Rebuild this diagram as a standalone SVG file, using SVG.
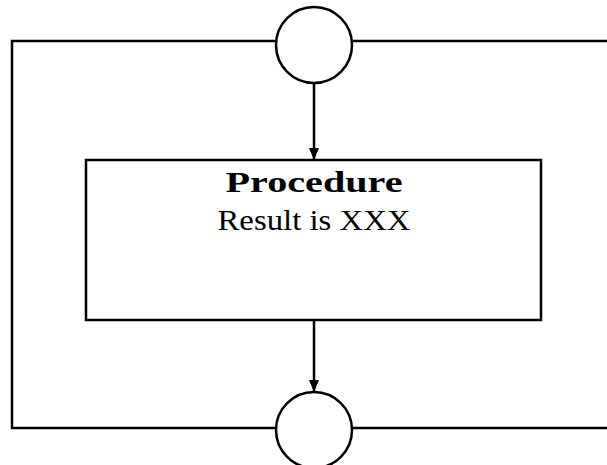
<svg xmlns="http://www.w3.org/2000/svg" width="607" height="465" viewBox="0 0 607 465">
<style>
.ln{fill:none;stroke:#000;stroke-width:2.5}
.nd{fill:#fff;stroke:#000;stroke-width:2.5}
.t{font-family:"Liberation Serif","Times New Roman",serif;font-size:30px;fill:#000;text-anchor:middle}
</style>
<defs>
<marker id="ah" markerWidth="12" markerHeight="12" refX="11" refY="6" orient="auto" markerUnits="userSpaceOnUse">
<path d="M0,1 L12,6 L0,11 Z" fill="#000"/>
</marker>
</defs>
<rect width="607" height="465" fill="#fff"/>
<g id="connectors">
<polyline class="ln" points="276,41 12,41 12,428 276,428"/>
<line class="ln" x1="352" y1="41" x2="607" y2="41"/>
<line class="ln" x1="352" y1="428" x2="607" y2="428"/>
<line class="ln" x1="314" y1="83" x2="314" y2="159" marker-end="url(#ah)"/>
<line class="ln" x1="314" y1="321" x2="314" y2="391" marker-end="url(#ah)"/>
</g>
<g id="start">
<circle class="nd" cx="314" cy="45" r="38"/>
</g>
<g id="procedure">
<rect class="nd" x="86" y="160" width="455" height="160"/>
<text class="t" x="314" y="192" font-weight="bold" textLength="177" lengthAdjust="spacingAndGlyphs">Procedure</text>
<text class="t" x="314" y="230" textLength="193" lengthAdjust="spacingAndGlyphs">Result is XXX</text>
</g>
<g id="end">
<circle class="nd" cx="314" cy="430" r="38"/>
</g>
</svg>
